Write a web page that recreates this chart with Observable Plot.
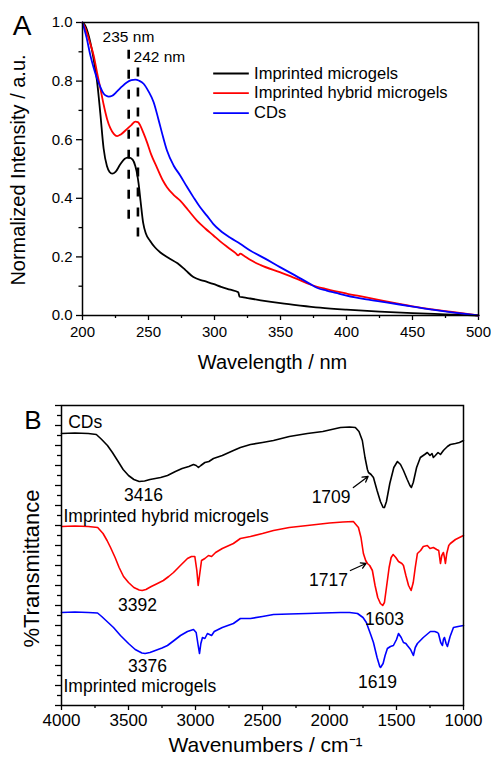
<!DOCTYPE html>
<html><head><meta charset="utf-8">
<script src="https://cdn.jsdelivr.net/npm/d3@7"></script>
<script src="https://cdn.jsdelivr.net/npm/@observablehq/plot@0.6"></script>
<style>
html,body{margin:0;padding:0;background:#fff;}
#chart svg{display:block;}
</style></head><body><div id="chart"></div>
<script>
// ---------- Panel A: UV-vis (normalized intensity) ----------
const seriesNames = ["Imprinted microgels", "Imprinted hybrid microgels", "CDs"];
const seriesColors = ["#000000", "#ff0000", "#0000ff"];

const blackWl = [200,202,205,207,209,211,213.5,216,218.5,220.5,222.5,225,228.5,232,235,238,240,241.5,242.5,244,246,248,251,255,259,265,272,278,284,292,299,305,312,318,319,322,327,335,350,365,380,400,425,450,475,500];
const blackVal = [1.0,0.99,0.95,0.91,0.86,0.80,0.69,0.57,0.51,0.49,0.484,0.49,0.515,0.535,0.540,0.532,0.51,0.48,0.45,0.39,0.315,0.28,0.256,0.232,0.215,0.197,0.178,0.155,0.131,0.118,0.108,0.098,0.088,0.079,0.064,0.062,0.058,0.052,0.042,0.034,0.027,0.02,0.013,0.008,0.004,0.0];

const redWl = [200,202.3,205,208.5,211,213.6,216,218.6,221,223.7,226.2,229,233.8,237,240,242,243.8,246,248.9,252,256.4,261,264,269,274,280,286.7,293,299.2,304.3,310,316,318,319.5,322,327,335,350,362,373,385,400,415,430,450,465,480,500];
const redVal = [1.0,0.978,0.94,0.887,0.83,0.774,0.72,0.671,0.64,0.620,0.612,0.618,0.637,0.650,0.662,0.660,0.648,0.625,0.591,0.55,0.505,0.46,0.438,0.412,0.392,0.36,0.324,0.297,0.273,0.253,0.233,0.213,0.205,0.211,0.205,0.19,0.172,0.147,0.126,0.105,0.09,0.075,0.062,0.048,0.031,0.021,0.012,0.0];

const blueWl = [200,203,206,208.5,211.1,213.5,216.1,218,219.9,222.5,226.2,230,233.8,237,240,243,246.3,250,253.9,257.5,261,264,269,274,279,284,289,294.2,299,304.3,312,319.4,327,338,349.6,361,372.3,378,384.9,392,400,415,430,449,465,480,500];
const blueVal = [1.0,0.95,0.887,0.845,0.808,0.78,0.757,0.75,0.747,0.75,0.765,0.782,0.796,0.803,0.805,0.801,0.791,0.765,0.728,0.67,0.61,0.563,0.512,0.478,0.44,0.404,0.37,0.341,0.313,0.290,0.265,0.245,0.222,0.195,0.165,0.137,0.108,0.094,0.085,0.077,0.068,0.055,0.045,0.031,0.02,0.011,0.0];

const peakWl = [235, 242];
const peakLabels = ["235 nm", "242 nm"];

const xTicksA = [200,250,300,350,400,450,500];
const xMinorA = [225,275,325,375,425,475];
const yTicksA = [0,0.2,0.4,0.6,0.8,1.0];
const yMinorA = [0.1,0.3,0.5,0.7,0.9];

// ---------- Panel B: FTIR ----------
const ftirNames = ["CDs", "Imprinted hybrid microgels", "Imprinted microgels"];
const ftirColors = ["#000000", "#ff0000", "#0000ff"];

const cdsWn = [4000,3900,3800,3740,3700,3657,3620,3582,3540,3500,3460,3420,3380,3340,3300,3260,3209,3150,3100,3050,3015,2995,2978,2960,2930,2900,2866,2800,2717,2665,2590,2500,2418,2300,2165,2050,1918,1850,1807,1780,1755,1735,1717,1709,1690,1672,1645,1620,1600,1590,1575,1550,1520,1493,1470,1448,1420,1400,1389,1375,1350,1322,1290,1270,1250,1235,1225,1210,1190,1172,1150,1120,1098,1060,1030,1000];
const cdsT = [27.2,27.25,27.2,27.1,26.6,26.0,25.3,24.5,23.6,23.0,22.6,22.4,22.45,22.6,22.7,22.8,23.0,23.4,23.7,23.9,24.1,24.0,23.8,24.0,24.3,24.4,24.7,25.0,25.5,25.8,26.1,26.3,26.5,26.9,27.2,27.4,27.8,27.85,27.8,27.4,26.5,24.8,23.6,23.3,23.1,22.8,21.5,20.4,19.8,19.8,20.4,22.2,23.8,24.4,24.1,23.5,22.6,22.0,21.8,22.3,23.8,24.8,25.1,25.3,25.0,25.2,24.8,25.0,25.3,25.1,25.5,25.9,26.1,26.2,26.3,26.5];

const hybWn = [4000,3900,3800,3730,3690,3660,3634,3600,3570,3537,3500,3460,3420,3398,3370,3330,3284,3240,3200,3164,3120,3060,3030,3005,2990,2980,2970,2955,2930,2903,2880,2850,2800,2717,2665,2590,2500,2418,2300,2165,2000,1900,1822,1784,1765,1747,1730,1717,1700,1680,1660,1640,1620,1603,1590,1575,1555,1540,1525,1505,1485,1460,1448,1430,1410,1391,1375,1360,1344,1320,1300,1270,1250,1225,1200,1185,1172,1162,1150,1142,1135,1125,1110,1098,1060,1030,1000];
const hybT = [17.9,17.95,17.9,17.8,17.2,16.5,15.8,14.8,13.8,12.9,12.3,11.8,11.55,11.5,11.6,11.9,12.2,12.5,12.9,13.3,13.9,14.7,14.9,14.9,13.5,12.0,13.0,14.5,14.7,15.0,14.9,15.3,15.7,16.2,16.7,16.9,17.2,17.5,17.8,18.0,18.25,18.35,18.4,17.8,16.8,15.2,14.5,14.2,14.0,13.5,12.0,10.8,10.2,10.0,10.3,11.8,13.8,14.8,15.1,14.8,14.4,14.2,14.0,13.0,12.0,11.5,12.3,13.8,15.2,15.5,15.9,16.0,15.7,15.8,15.6,15.5,14.2,15.0,15.3,14.8,14.2,15.2,16.0,16.2,16.6,16.8,17.0];

const impWn = [4000,3900,3800,3731,3700,3660,3612,3560,3500,3450,3400,3376,3340,3300,3250,3209,3160,3112,3060,3015,2995,2980,2970,2960,2948,2930,2911,2880,2860,2800,2717,2665,2590,2500,2418,2300,2165,2050,1918,1850,1791,1750,1725,1709,1690,1672,1645,1625,1619,1600,1585,1568,1545,1523,1500,1485,1465,1448,1430,1419,1395,1374,1360,1344,1300,1247,1215,1195,1187,1170,1157,1150,1142,1130,1120,1100,1075,1040,1000];
const impT = [9.3,9.35,9.3,9.25,8.9,8.4,7.8,7.0,6.2,5.6,5.25,5.2,5.3,5.5,5.75,6.0,6.5,7.0,7.4,7.6,7.3,6.0,5.2,6.2,6.8,6.7,7.2,7.0,7.4,7.8,8.2,8.7,8.7,8.9,9.1,9.15,9.2,9.25,9.3,9.3,9.2,8.8,8.3,7.7,7.0,6.3,4.8,3.9,3.8,4.2,5.0,5.7,5.9,6.0,6.6,7.2,6.8,6.3,6.2,6.0,5.6,5.0,5.8,6.2,6.8,7.4,7.4,7.3,7.2,6.3,6.0,6.6,6.8,6.2,5.9,6.9,7.8,7.9,8.0];

const bandLabels = ["3416", "3392", "3376", "1709", "1717", "1603", "1619"];
const bandX = [3388, 3433, 3358, 1988, 2008, 1590, 1642];
const bandY = [21.0, 10.0, 3.9, 20.8, 12.5, 8.6, 2.3];

const xTicksB = [4000,3500,3000,2500,2000,1500,1000];
const xMinorB = [3750,3250,2750,2250,1750,1250];

const FONT = "'Liberation Sans', Arial, Helvetica, sans-serif";
const rows = (xs, ys) => xs.map((x, i) => ({x, y: ys[i]}));
const blank = () => "";

// ---------------- Plot A ----------------
const uv = [
  {name: seriesNames[0], color: seriesColors[0], data: rows(blackWl, blackVal)},
  {name: seriesNames[1], color: seriesColors[1], data: rows(redWl, redVal)},
  {name: seriesNames[2], color: seriesColors[2], data: rows(blueWl, blueVal)}
];
const legendY = [0.826, 0.759, 0.691];
const dashTop = [0.905, 0.845];
const dashBottom = [0.30, 0.232];

const marksA = [
  Plot.axisY(yTicksA, {tickSize: 6, tickPadding: 4, tickFormat: d => d.toFixed(1), label: null, fontSize: 15, strokeWidth: 1.3}),
  Plot.axisY(yMinorA, {tickSize: 3.5, tickFormat: blank, label: null, strokeWidth: 1.3}),
  Plot.axisX(xTicksA, {tickSize: 5, tickPadding: 6, tickFormat: d => String(d), label: null, fontSize: 15, strokeWidth: 1.3}),
  Plot.axisX(xMinorA, {tickSize: 3, tickFormat: blank, label: null, strokeWidth: 1.3}),
  Plot.ruleX(peakWl, {x: d => d, y1: (d, i) => dashTop[i], y2: (d, i) => dashBottom[i], stroke: "#000", strokeWidth: 2.6, strokeDasharray: "9,11"})
];
uv.forEach((s, i) => {
  marksA.push(Plot.line(s.data, {x: "x", y: "y", stroke: s.color, strokeWidth: 1.8, curve: "monotone-x"}));
  marksA.push(Plot.link([s.name], {x1: 299, x2: 326, y1: legendY[i], y2: legendY[i], stroke: s.color, strokeWidth: 1.8}));
  marksA.push(Plot.text([s.name], {x: 330, y: legendY[i], text: d => d, textAnchor: "start", lineAnchor: "middle", fontSize: 16.5, fill: "#000"}));
});
marksA.push(
  Plot.text([peakLabels[0]], {x: 234.8, y: 0.949, text: d => d, textAnchor: "middle", lineAnchor: "middle", fontSize: 15.5}),
  Plot.text([peakLabels[1]], {x: 238.7, y: 0.882, text: d => d, textAnchor: "start", lineAnchor: "middle", fontSize: 15.5}),
  Plot.frame({stroke: "#000", strokeWidth: 1.5}),
  Plot.text(["A"], {frameAnchor: "top-left", dx: -60.5, dy: 4, textAnchor: "middle", lineAnchor: "middle", fontSize: 28}),
  Plot.text(["Normalized Intensity / a.u."], {frameAnchor: "left", dx: -64, dy: 1, rotate: -90, textAnchor: "middle", lineAnchor: "middle", fontSize: 20}),
  Plot.text(["Wavelength / nm"], {frameAnchor: "bottom", dx: -8, dy: 47, textAnchor: "middle", lineAnchor: "middle", fontSize: 20})
);

const plotA = Plot.plot({
  width: 491, height: 380,
  marginTop: 22, marginLeft: 82, marginRight: 13, marginBottom: 65,
  x: {domain: [200, 500]},
  y: {domain: [0, 1]},
  style: {fontFamily: FONT, fontSize: "15px", color: "#000", background: "#fff", overflow: "visible"},
  marks: marksA
});

// ---------------- Plot B ----------------
const ftir = [
  {name: ftirNames[0], color: ftirColors[0], data: rows(cdsWn, cdsT)},
  {name: ftirNames[1], color: ftirColors[1], data: rows(hybWn, hybT)},
  {name: ftirNames[2], color: ftirColors[2], data: rows(impWn, impT)}
];
const nameX = [3950, 3985, 3985];
const nameY = [28.3, 18.9, 1.9];

const marksB = [
  Plot.axisY(d3.range(0, 31, 2), {tickSize: 6, tickFormat: blank, label: null, strokeWidth: 1.3}),
  Plot.axisY(d3.range(1, 30, 2), {tickSize: 4, tickFormat: blank, label: null, strokeWidth: 1.3}),
  Plot.axisX(xTicksB, {tickSize: 5, tickPadding: 3, tickFormat: d => String(d), label: null, fontSize: 17, strokeWidth: 1.3}),
  Plot.axisX(xMinorB, {tickSize: 3, tickFormat: blank, label: null, strokeWidth: 1.3})
];
ftir.forEach((s, i) => {
  marksB.push(Plot.line(s.data, {x: "x", y: "y", stroke: s.color, strokeWidth: 1.6}));
  marksB.push(Plot.text([s.name], {x: nameX[i], y: nameY[i], text: d => d, textAnchor: "start", lineAnchor: "middle", fontSize: 17.5}));
});
marksB.push(
  Plot.text(bandLabels, {x: (d, i) => bandX[i], y: (d, i) => bandY[i], text: d => d, textAnchor: "middle", lineAnchor: "middle", fontSize: 17.5}),
  Plot.arrow([0], {x1: 1822, y1: 21.8, x2: 1712, y2: 22.9, stroke: "#000", strokeWidth: 1.3, headLength: 7}),
  Plot.arrow([0], {x1: 1844, y1: 13.5, x2: 1728, y2: 14.2, stroke: "#000", strokeWidth: 1.3, headLength: 7}),
  Plot.frame({stroke: "#000", strokeWidth: 1.5}),
  Plot.text(["B"], {frameAnchor: "top-left", dx: -28.5, dy: 15, textAnchor: "middle", lineAnchor: "middle", fontSize: 26}),
  Plot.text(["%Transmittance"], {frameAnchor: "left", dx: -30, dy: 13, rotate: -90, textAnchor: "middle", lineAnchor: "middle", fontSize: 22}),
  Plot.text(["Wavenumbers / cm\u207B\u00B9"], {frameAnchor: "bottom", dx: 3, dy: 40, textAnchor: "middle", lineAnchor: "middle", fontSize: 21})
);

const plotB = Plot.plot({
  width: 491, height: 379,
  marginTop: 25, marginLeft: 61, marginRight: 28, marginBottom: 54,
  x: {domain: [4000, 1000]},
  y: {domain: [0, 30]},
  style: {fontFamily: FONT, fontSize: "17px", color: "#000", background: "#fff", overflow: "visible"},
  marks: marksB
});

const root = document.getElementById("chart");
root.appendChild(plotA);
root.appendChild(plotB);
</script></body></html>
